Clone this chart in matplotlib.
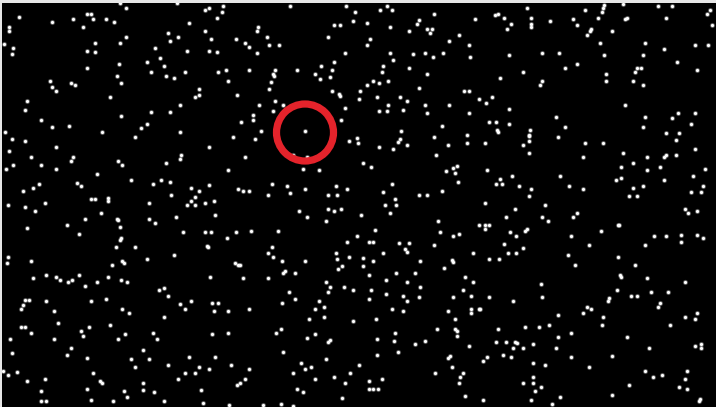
import matplotlib
matplotlib.use("Agg")
import matplotlib.pyplot as plt
from matplotlib.patches import Circle

# Star positions (image pixel coordinates)
star_xy = [
    # top-left
    (120,3),(126,8),(19,17),(52,22),(9,27),(9,31),(73,19),(87,14),(91,14),(93,19),(106,19),(114,22),(83,27),(4,44),(13,48),(12,54),
    (95,43),(87,51),(95,52),(120,43),(126,37),(87,68),(119,64),(117,76),(121,83),(50,81),(52,87),(56,91),(71,83),(75,85),(110,97),
    (27,101),(25,110),(41,120),(52,127),(69,126),(121,116),(5,132),(102,132),(147,124),(141,128),(155,48),(147,62),(160,58),(164,66),
    (151,72),(166,76),(174,78),(185,72),(168,33),(170,41),(178,37),(187,51),(189,23),(205,10),(209,8),(223,6),(222,12),(217,18),
    (205,31),(211,39),(209,51),(217,52),(236,39),(218,72),(226,70),(228,81),(199,89),(199,95),(195,97),(237,95),(180,105),(170,112),
    (151,112),(180,132),(177,3),
    # top-middle
    (290,6),(346,6),(355,12),(387,6),(392,10),(380,10),(434,14),(419,20),(417,24),(427,29),(432,29),(430,33),(475,19),(409,31),
    (390,27),(367,23),(353,21),(334,25),(340,25),(258,27),(257,31),(267,37),(245,43),(249,47),(269,45),(279,45),(328,37),(370,39),
    (367,45),(459,35),(449,41),(469,45),(470,57),(443,53),(433,57),(425,53),(413,54),(393,60),(390,53),(345,53),(257,53),(249,70),
    (275,70),(273,74),(274,76),(271,82),(269,89),(297,70),(315,74),(321,66),(320,79),(330,77),(332,70),(334,62),(332,91),(339,94),
    (340,96),(360,91),(367,85),(373,81),(379,83),(388,81),(382,72),(383,66),(409,68),(427,74),(419,88),(464,91),(469,91),(479,99),
    (377,97),(400,97),(407,101),(359,99),(275,101),(283,105),(259,105),(273,111),(253,115),(253,120),(241,122),(261,131),(345,108),
    (341,120),(379,111),(387,111),(388,105),(403,110),(425,105),(449,105),(427,113),(469,113),(442,126),(467,135),(401,131),(305,131),
    # top-right
    (527,8),(495,15),(498,14),(504,18),(511,24),(507,29),(531,18),(531,24),(531,27),(550,21),(573,19),(577,25),(585,10),(598,18),
    (602,12),(603,8),(604,5),(623,4),(625,19),(627,18),(587,35),(590,31),(591,29),(612,31),(658,6),(672,6),(666,18),(707,14),
    (710,10),(712,25),(645,43),(643,55),(664,49),(695,45),(708,45),(677,62),(697,70),(600,43),(604,55),(509,55),(542,53),(559,53),
    (577,64),(565,68),(523,72),(500,78),(542,81),(540,85),(606,74),(606,81),(635,72),(637,68),(641,68),(633,81),(643,85),(492,97),
    (486,103),(509,109),(556,117),(625,105),(645,117),(672,118),(678,113),(695,113),(691,124),(643,127),(666,133),(679,133),
    (489,122),(496,122),(509,124),(497,130),(498,132),(530,130),(529,135),(565,127),
    # middle-left
    (12,139),(25,141),(9,151),(31,157),(13,165),(6,169),(41,165),(56,147),(56,169),(71,161),(73,157),(118,161),(122,165),(135,137),
    (97,174),(77,183),(81,186),(33,188),(39,184),(23,191),(8,205),(25,207),(35,211),(45,203),(27,228),(67,225),(85,219),(79,234),
    (91,199),(95,199),(108,198),(108,201),(101,213),(117,219),(118,220),(120,227),(121,238),(120,240),(116,247),(112,265),(122,261),
    (124,263),(135,247),(31,261),(8,257),(7,263),(131,180),(153,184),(161,180),(170,182),(166,163),(180,159),(181,155),(209,147),
    (228,170),(233,137),(171,195),(149,203),(149,219),(155,223),(176,217),(183,232),(191,188),(199,191),(195,197),(191,201),
    (187,205),(195,205),(205,203),(214,201),(209,185),(215,215),(238,189),(205,232),(211,232),(227,238),(236,232),(207,246),
    (208,247),(174,255),(147,259),(235,263),(238,265),
    # centre
    (255,139),(245,157),(293,155),(307,157),(303,169),(319,170),(349,141),(358,143),(357,138),(398,142),(400,139),(393,149),
    (379,147),(407,145),(434,137),(448,145),(467,143),(436,155),(363,163),(371,167),(457,166),(453,168),(455,173),(446,171),
    (458,182),(272,184),(287,186),(305,189),(243,191),(249,191),(268,195),(290,193),(328,195),(337,195),(336,186),(347,189),
    (392,184),(383,192),(395,199),(396,205),(385,205),(390,213),(419,195),(427,195),(442,191),(299,211),(307,217),(328,209),
    (334,211),(341,209),(326,221),(361,215),(251,231),(278,231),(375,230),(357,236),(347,242),(369,242),(373,242),(399,243),
    (409,243),(405,249),(407,252),(434,245),(438,221),(440,232),(453,236),(459,234),(479,225),(272,247),(268,253),(273,257),
    (282,261),(305,261),(336,253),(337,259),(349,257),(363,258),(383,253),(373,261),(363,266),(342,266),(338,269),(285,271),
    (420,261),(452,260),(453,262),(444,268),(473,253),(240,265),
    # middle-right
    (485,143),(523,145),(529,141),(529,136),(558,137),(529,153),(585,143),(603,143),(583,157),(623,153),(633,163),(621,167),
    (647,157),(647,170),(664,157),(666,155),(660,167),(676,140),(676,155),(695,149),(705,169),(487,170),(512,176),(500,179),
    (496,184),(502,184),(519,186),(531,189),(529,196),(560,176),(569,186),(583,189),(616,180),(621,178),(633,188),(643,186),
    (629,196),(637,196),(664,180),(693,176),(703,186),(691,192),(701,192),(485,203),(515,209),(506,217),(545,205),(542,217),
    (548,221),(573,217),(577,213),(485,225),(489,225),(485,229),(525,231),(527,229),(510,232),(516,236),(504,244),(523,248),
    (508,253),(516,253),(489,259),(499,259),(571,236),(589,245),(601,231),(618,225),(619,225),(568,255),(575,265),(618,257),
    (635,265),(645,245),(654,236),(666,236),(681,235),(681,242),(697,235),(703,238),(685,209),(688,213),(697,211),
    # bottom-left
    (33,278),(46,275),(56,277),(60,280),(68,282),(72,280),(79,275),(85,286),(97,282),(108,277),(121,280),(127,282),(25,300),
    (29,300),(23,305),(21,309),(46,301),(54,311),(58,323),(21,327),(25,327),(31,333),(10,339),(12,353),(54,339),(71,348),(67,355),
    (81,331),(83,336),(89,327),(91,301),(106,299),(110,325),(118,339),(125,334),(122,309),(129,313),(87,358),(93,373),(100,381),
    (102,383),(87,389),(91,400),(113,401),(127,397),(124,391),(143,383),(143,390),(154,392),(164,401),(41,391),(41,401),(46,401),
    (45,379),(27,381),(17,372),(8,375),(3,371),(159,290),(164,288),(168,296),(164,317),(180,304),(185,309),(191,301),(210,277),
    (212,303),(218,303),(214,311),(228,311),(212,334),(228,333),(143,350),(153,333),(157,339),(131,359),(135,367),(149,359),
    (168,365),(189,357),(185,373),(195,373),(199,367),(209,369),(215,357),(231,365),(178,379),(201,390),(203,403),(229,405),(237,385),
    # bottom-middle
    (243,278),(268,278),(283,273),(295,273),(249,309),(282,303),(289,292),(295,299),(326,282),(330,287),(328,292),(319,301),
    (324,307),(315,309),(324,317),(309,319),(281,329),(276,333),(315,334),(307,338),(328,342),(330,340),(283,352),(326,359),
    (301,363),(305,369),(311,367),(293,373),(315,379),(334,377),(345,383),(350,373),(359,365),(353,321),(344,287),(353,290),
    (369,275),(371,290),(369,299),(386,280),(386,294),(396,273),(407,282),(415,273),(420,287),(403,296),(407,301),(419,297),
    (392,309),(403,311),(376,319),(377,339),(395,333),(394,341),(398,352),(377,355),(415,344),(425,341),(437,329),(465,277),
    (473,282),(463,290),(453,297),(471,296),(448,311),(471,309),(471,313),(479,309),(455,319),(455,329),(457,331),(457,336),
    (469,346),(448,358),(450,356),(452,367),(435,373),(463,373),(460,377),(459,383),(382,379),(369,381),(369,389),(373,389),
    (378,389),(342,398),(297,389),(303,392),(281,404),(293,406),(263,405),(249,369),(245,379),(240,383),(465,396),
    # bottom-right
    (620,275),(621,277),(647,278),(685,282),(541,284),(542,297),(513,301),(489,297),(617,290),(631,296),(637,296),(651,292),
    (668,292),(609,298),(608,301),(660,303),(658,307),(587,307),(591,309),(583,313),(558,315),(603,317),(602,325),(685,317),
    (697,313),(695,319),(670,325),(525,327),(539,327),(549,325),(498,329),(571,333),(558,337),(627,337),(496,342),(506,342),
    (515,342),(517,343),(533,344),(513,348),(523,348),(556,348),(503,355),(511,357),(487,357),(483,361),(533,363),(545,365),
    (571,357),(589,367),(612,356),(649,348),(695,346),(701,344),(701,348),(645,371),(653,377),(662,375),(687,371),(685,379),
    (687,389),(679,387),(629,385),(523,383),(533,377),(533,383),(541,387),(535,391),(560,397),(531,400),(552,404),(483,400),
    (612,395),(700,399),(699,401),(480,309),
]
star_x = [p[0] for p in star_xy]
star_y = [p[1] for p in star_xy]

# Highlight ring
ring_center = (305, 132.5)
ring_radius = 28.5

W, H = 716, 407
fig = plt.figure(figsize=(W / 100, H / 100), dpi=100, facecolor="#e6e6e6")
ax = fig.add_axes([2 / W, 0, (W - 2) / W, (H - 3) / H])
ax.set_facecolor("black")
ax.set_xlim(2, W)
ax.set_ylim(H, 3)
ax.axis("off")
ax.add_patch(plt.Rectangle((2, 3), W - 2, H - 3, color="black", zorder=0))

# soft glow + bright core
ax.scatter(star_x, star_y, s=14, color="white", alpha=0.3, linewidths=0, zorder=2)
ax.scatter(star_x, star_y, s=5.5, color="white", linewidths=0, zorder=3)

ax.add_patch(Circle(ring_center, ring_radius, fill=False, edgecolor="#e4232b",
                    linewidth=5.2, zorder=4))

fig.savefig("out.png", dpi=100, facecolor=fig.get_facecolor())
